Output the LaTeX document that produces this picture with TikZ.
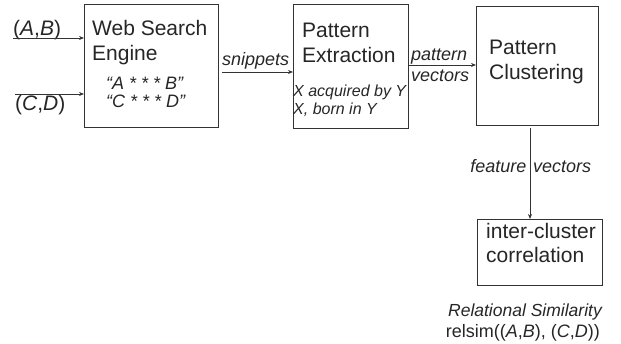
\documentclass[tikz,border=0pt]{standalone}
\usepackage{fontspec}
\setmainfont{Liberation Sans}
\usetikzlibrary{arrows.meta}
\tikzset{
  box/.style={draw=black!80, line width=0.8pt, inner sep=0pt, outer sep=0pt},
  arr/.style={draw=black!80, line width=0.8pt, -{Stealth[length=5pt,width=4pt]}},
  big/.style={inner sep=0pt, anchor=base west, font=\fontsize{21}{25}\selectfont, text=black!85},
  mid/.style={inner sep=0pt, anchor=base west, font=\fontsize{18}{21}\selectfont\itshape, text=black!85},
  sml/.style={inner sep=0pt, anchor=base west, font=\fontsize{16}{19}\selectfont\itshape, text=black!85},
  btm/.style={inner sep=0pt, anchor=base east, font=\fontsize{18}{21}\selectfont, text=black!85}
}
\begin{document}
\begin{tikzpicture}[x=1pt,y=-1pt]
\useasboundingbox (0,0) rectangle (621,344);
% boxes
\node[box, minimum width=134pt, minimum height=123pt] (web) at (151,65.5) {};
\node[box, minimum width=115pt, minimum height=124pt] (pe) at (350.5,66) {};
\node[box, minimum width=122pt, minimum height=119pt] (pc) at (537,65.5) {};
\node[box, minimum width=125pt, minimum height=66pt] (ic) at (539.5,252) {};
% box texts
\node[big] (t1) at (92,36) {Web Search};
\node[big] (t2) at (92,61) {Engine};
\node[mid] (t3) at (106,90) {``A * * * B''};
\node[mid] (t4) at (106,108) {``C * * * D''};
\node[big] (t5) at (302,38) {Pattern};
\node[big] (t6) at (302,63) {Extraction};
\node[sml] (t7) at (293,97) {X acquired by Y};
\node[sml] (t8) at (293,115) {X, born in Y};
\node[big] (t9) at (489,55) {Pattern};
\node[big] (t10) at (489,80) {Clustering};
\node[big] (t11) at (486,239) {inter-cluster};
\node[big] (t12) at (486,263) {correlation};
% inputs
\node[big] (ablbl) at (13,36) {(\textit{A},\textit{B})};
\node[big] (cdlbl) at (15,111) {(\textit{C},\textit{D})};
\coordinate (ab) at (13,38);
\coordinate (cd) at (15,94);
\draw[arr] (ab) -- (ab -| web.west);
\draw[arr] (cd) -- (cd -| web.west);
% snippets
\coordinate (s1) at (222,72);
\draw[arr] (s1) -- (s1 -| pe.west);
\node[mid] (sn) at (222,66) {snippets};
% pattern vectors
\coordinate (pv) at (440,65);
\draw[arr] (pv -| pe.east) -- (pv -| pc.west);
\node[mid] (pvl1) at (411,61) {pattern};
\node[mid] (pvl2) at (411,82) {vectors};
% feature vectors
\coordinate (fv) at (530,128);
\draw[arr] (fv) -- (fv |- ic.north);
\node[mid, anchor=base east] (fvl1) at (526.5,173) {feature};
\node[mid] (fvl2) at (533,173) {vectors};
% bottom
\node[btm, font=\fontsize{17.5}{20}\selectfont\itshape] (rs) at (602,317) {Relational Similarity};
\node[btm] (rel) at (600,338) {relsim((\textit{A},\textit{B}), (\textit{C},\textit{D}))};
\end{tikzpicture}
\end{document}
